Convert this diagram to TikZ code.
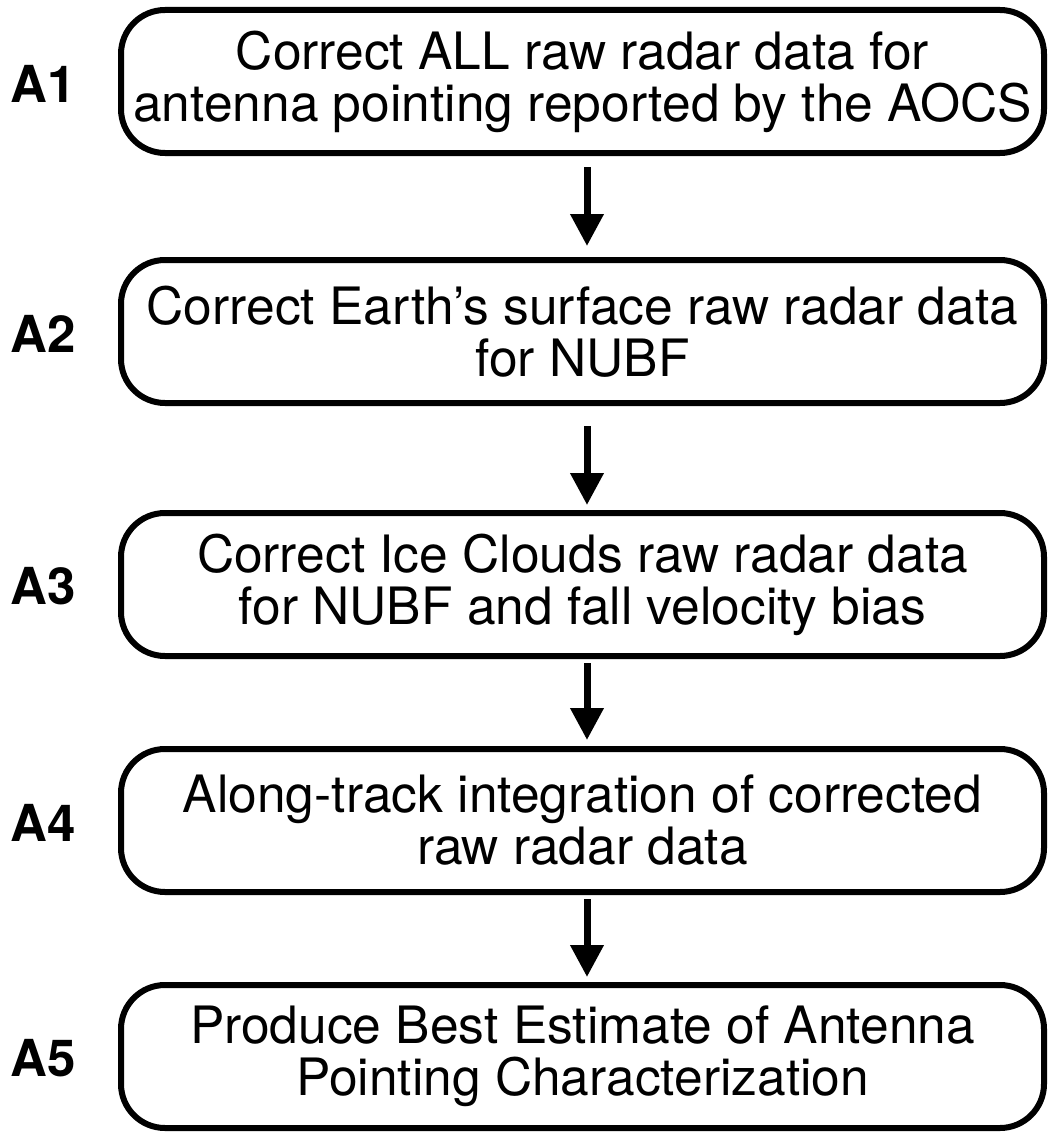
\documentclass[tikz,border=0pt]{standalone}
\usepackage{fontspec}
\setmainfont{TeX Gyre Heros}
\usetikzlibrary{arrows.meta, positioning}

\begin{document}
\begin{tikzpicture}[x=1pt, y=1pt, >={Triangle[length=32pt, width=32pt]},
    stepbox/.style={draw, line width=6pt, rounded corners=44pt,
      minimum width=923pt, minimum height=143pt, outer sep=0pt,
      inner sep=0pt, align=center, font=\fontsize{51.5}{52}\selectfont},
    tag/.style={inner sep=0pt, outer sep=0pt, font=\fontsize{51}{51}\selectfont\bfseries},
    flow/.style={->, line width=7pt}]
    \useasboundingbox (0,0) rectangle (1048,-1132);

    % Processing steps
    \node[stepbox] (A1) at (582.5,-81.5) {Correct ALL raw radar data for\\antenna pointing reported by the AOCS};
    \node[stepbox, below=107pt of A1] (A2) {Correct Earth’s surface raw radar data\\for NUBF};
    \node[stepbox, below=110pt of A2] (A3) {Correct Ice Clouds raw radar data\\for NUBF and fall velocity bias};
    \node[stepbox, below=93pt of A3] (A4) {Along-track integration of corrected\\raw radar data};
    \node[stepbox, below=93pt of A4] (A5) {Produce Best Estimate of Antenna\\Pointing Characterization};

    % Step labels
    \node[tag, left=45pt of A1, yshift=-2pt] (L1) {A1};
    \node[tag, left=45pt of A2, yshift=-2pt] (L2) {A2};
    \node[tag, left=45pt of A3, yshift=-2pt] (L3) {A3};
    \node[tag, left=45pt of A4, yshift=-2pt] (L4) {A4};
    \node[tag, left=45pt of A5, yshift=-2pt] (L5) {A5};

    % Arrows
    \draw[flow, shorten <=14pt, shorten >=14pt] ([xshift=4.5pt]A1.south) -- ([xshift=4.5pt]A2.north);
    \draw[flow, shorten <=23pt, shorten >=8pt] ([xshift=4.5pt]A2.south) -- ([xshift=4.5pt]A3.north);
    \draw[flow, shorten <=7pt, shorten >=9pt] ([xshift=4.5pt]A3.south) -- ([xshift=4.5pt]A4.north);
    \draw[flow, shorten <=7pt, shorten >=8pt] ([xshift=4.5pt]A4.south) -- ([xshift=4.5pt]A5.north);
\end{tikzpicture}
\end{document}
